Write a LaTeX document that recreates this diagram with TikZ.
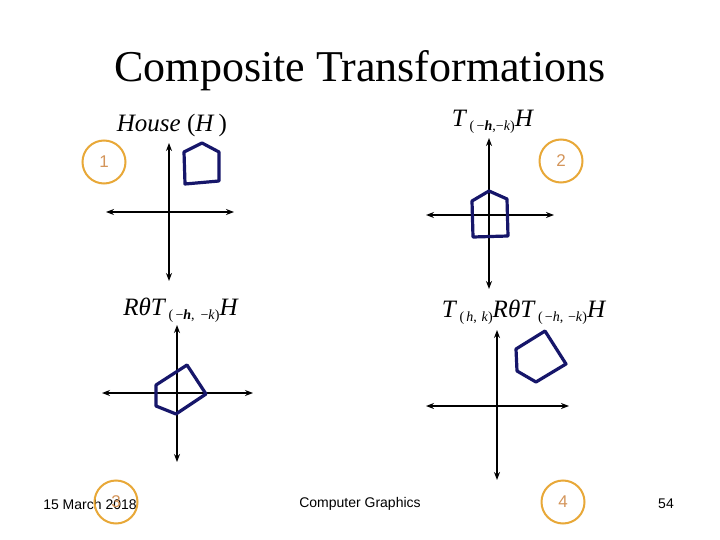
\documentclass[tikz,border=0pt]{standalone}
\usepackage{fontspec}
\setmainfont{Liberation Serif}
\newfontfamily\arialf{Liberation Sans}
\usetikzlibrary{arrows.meta}
\definecolor{circ}{HTML}{E8A838}
\definecolor{numc}{HTML}{D4955A}
\definecolor{housec}{HTML}{16166A}
\newcommand{\sbs}[1]{\raisebox{-3.5pt}{\fontsize{14}{14}\selectfont #1}}
\begin{document}
\begin{tikzpicture}[x=1pt,y=-1pt,
  axis/.style={line width=2pt,{Stealth[length=8pt,width=6pt]}-{Stealth[length=8pt,width=6pt]}},
  housepoly/.style={draw=housec,line width=3.2pt,line join=round},
  numcirc/.style={circle,draw=circ,line width=2pt,minimum size=43pt,inner sep=0pt,text=numc,font=\arialf\fontsize{17}{17}\selectfont},
  lbl/.style={font=\fontsize{25}{25}\selectfont,inner sep=0pt},
  foot/.style={font=\arialf\fontsize{14}{14}\selectfont,inner sep=0pt}]
\useasboundingbox (0,0) rectangle (720,540);
\fill[white] (0,0) rectangle (720,540);
\node[font=\fontsize{44}{44}\selectfont,inner sep=0pt] (title) at (360,71) {Composite Transformations};
% footers
\node[foot] (date) at (90,504) {15 March 2018};
\node[foot] (course) at (360,504) {Computer Graphics};
\node[foot] (page) at (666,504) {54};
% panel 1
\node[lbl] (l1) at (172,125) {\textit{House} (\textit{H}\,)};
\coordinate (a1t) at (169,143); \coordinate (a1b) at (169,281);
\coordinate (a1l) at (106,212); \coordinate (a1r) at (234,212);
\draw[axis] (a1t) -- (a1b);
\draw[axis] (a1l) -- (a1r);
\draw[housepoly] (184,152) -- (202,143) -- (219,152) -- (219,181) -- (185,184) -- cycle;
\node[numcirc] (c1) at (104,162) {1};
% panel 2
\node[lbl] (l2) at (493,122) {\textit{T}\sbs{\,(\,−\textit{\textbf{h}},−\textit{k})}\textit{H}};
\coordinate (a2t) at (489,138); \coordinate (a2b) at (489,289);
\coordinate (a2l) at (426,215); \coordinate (a2r) at (554,215);
\draw[axis] (a2t) -- (a2b);
\draw[axis] (a2l) -- (a2r);
\draw[housepoly] (472,201) -- (489,191) -- (507,199) -- (508,236) -- (473,237) -- cycle;
\node[numcirc] (c2) at (561,161) {2};
% panel 3
\node[lbl] (l3) at (181,310) {\textit{R}\textit{θ}\textit{T}\sbs{\,(\,−\textit{\textbf{h}},\, −\textit{k})}\textit{H}};
\coordinate (a3t) at (177,325); \coordinate (a3b) at (177,462);
\coordinate (a3l) at (102,393); \coordinate (a3r) at (253,393);
\draw[axis] (a3t) -- (a3b);
\draw[axis] (a3l) -- (a3r);
\draw[housepoly] (156,385) -- (187,365) -- (206,394) -- (176,414) -- (156,406) -- cycle;
\node[numcirc] (c3) at (116,502) {3};
% panel 4
\node[lbl] (l4) at (524,312) {\textit{T}\sbs{\,(\,\textit{h},\,\,\textit{k})}\textit{R}\textit{θ}\textit{T}\sbs{\,(\,−\textit{h},\,\,−\textit{k})}\textit{H}};
\coordinate (a4t) at (497,330); \coordinate (a4b) at (497,480);
\coordinate (a4l) at (426,406); \coordinate (a4r) at (569,406);
\draw[axis] (a4t) -- (a4b);
\draw[axis] (a4l) -- (a4r);
\draw[housepoly] (516,349) -- (545,331) -- (566,364) -- (536,382) -- (517,371) -- cycle;
\node[numcirc] (c4) at (563,502) {4};
\end{tikzpicture}
\end{document}
